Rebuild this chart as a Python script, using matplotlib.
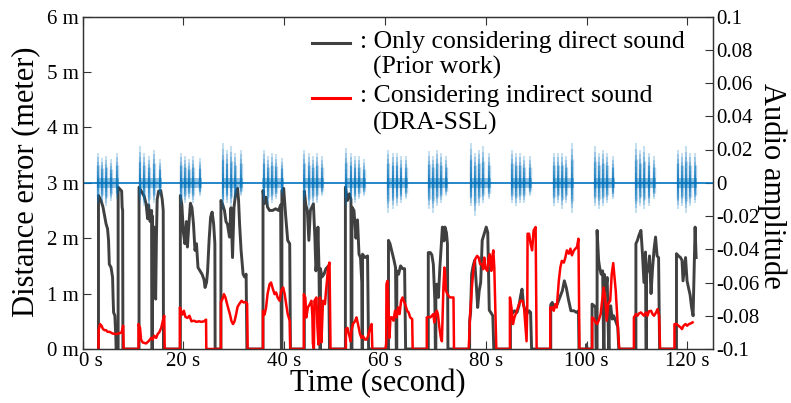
import numpy as np
import matplotlib
matplotlib.use('agg')
import matplotlib.pyplot as plt
from matplotlib.lines import Line2D
from matplotlib.transforms import ScaledTranslation

plt.rcParams['font.family'] = ['Liberation Serif', 'DejaVu Serif']
plt.rcParams['axes.unicode_minus'] = False

# distance error of the prior work (direct sound only), seconds / metres
gray_t = [3.15, 3.15, 3.65, 4.05, 4.65, 4.95, 5.15, 5.3, 5.65, 5.95, 6.05, 6.15, 6.4, 6.6, 6.65, 7.05, 7.05, 7.45, 7.75, 7.85, 7.95, 8.0,
          11.2, 11.2, 11.7, 12.2, 12.6, 12.9, 13.1, 13.4, 13.7, 13.75, 13.85, 13.85, 14.0, 14.2, 14.35, 14.5, 14.65, 14.8, 15.1, 15.5, 15.8, 16.0, 16.05,
          19.4, 19.4, 19.7, 20.0, 20.3, 20.6, 20.8, 21.1, 21.4, 21.7, 22.0, 22.3, 22.6, 22.9, 23.3, 23.7, 24.1, 24.3, 24.6, 24.8, 25.1, 25.4, 25.7, 26.0, 26.25, 26.3,
          27.45, 27.45, 27.75, 28.15, 28.45, 28.75, 29.15, 29.45, 29.75, 30.05, 30.45, 30.75, 30.95, 31.15, 31.45, 31.85, 32.15, 32.45, 32.6,
          35.8, 35.8, 36.1, 36.4, 36.7, 37.1, 37.7, 38.3, 38.9, 39.3, 39.45, 39.55, 39.55, 39.9, 40.3, 40.7, 41.1, 41.25,
          44.0, 44.0, 44.3, 44.6, 44.9, 45.2, 45.5, 45.8, 46.1, 46.3, 46.5, 46.7, 46.9, 47.1, 47.2, 47.2, 47.5, 47.9, 48.3, 48.8, 49.0,
          52.15, 52.15, 52.55, 52.95, 53.25, 53.3, 53.45, 53.45, 53.85, 54.25, 54.55, 54.85, 55.15, 55.4, 55.45, 55.55, 55.55, 56.05, 56.55, 56.75,
          60.7, 60.7, 61.0, 61.4, 61.8, 62.1, 62.25, 62.35, 62.35, 62.7, 63.1, 63.5, 63.9, 64.1,
          68.6, 68.6, 69.0, 69.3, 69.6, 69.9, 70.0, 70.1, 70.1, 70.3, 70.6, 70.9, 71.2, 71.4, 71.7, 71.9, 72.2, 72.4, 72.5,
          76.8, 76.8, 77.0, 77.2, 77.5, 77.8, 78.1, 78.4, 78.7, 79.0, 79.3, 79.7, 80.1, 80.4, 80.7, 81.0, 81.4, 81.6,
          84.9, 84.9, 85.3, 85.7, 86.2, 86.6, 86.9, 87.2, 87.5, 87.8, 88.2, 88.6, 88.9, 89.1,
          92.9, 92.9, 93.2, 93.6, 94.2, 94.7, 95.2, 95.6, 96.0, 96.4, 96.9, 97.5, 98.0, 98.4, 98.5,
          100.0, 100.0, 100.1,
          101.1, 101.1, 101.5, 101.8, 101.9, 102.1, 102.1, 102.4, 102.6, 102.9, 103.2, 103.4, 103.5, 103.5, 103.8, 104.1, 104.4, 104.5, 104.5, 104.8, 105.1, 105.4, 105.8, 106.2, 106.4,
          109.8, 109.8, 110.1, 110.4, 110.8, 111.1, 111.4, 111.7, 111.8, 111.9, 111.9, 112.2, 112.5, 112.8, 113.1, 113.4, 113.7, 114.0, 114.3, 114.5,
          117.85, 117.85, 118.25, 118.65, 118.95, 119.15, 119.35, 119.65, 119.95, 120.25, 120.55, 120.85, 121.15, 121.35, 121.55, 121.75]
gray_m = [0, 2.77, 2.68, 2.56, 2.26, 2.17, 1.96, 1.53, 1.47, 1.29, 0.93, 0.66, 0.6, 0.2, 0, 0, 2.92, 2.88, 2.85, 2.56, 2.5, 0,
          0, 2.92, 2.84, 2.76, 2.62, 2.35, 2.6, 2.3, 2.5, 0, 0, 2.4, 1.6, 2.2, 1.2, 0.9, 2.0, 2.7, 2.85, 2.86, 2.7, 2.5, 0,
          0, 2.77, 2.6, 2.1, 1.9, 2.3, 1.84, 2.26, 2.63, 2.55, 2.26, 1.78, 1.9, 1.47, 1.41, 1.35, 1.25, 1.11, 1.2, 1.4, 1.96, 2.38, 2.47, 2.26, 1.9, 0,
          0, 2.68, 2.62, 2.5, 2.3, 2.25, 2.02, 2.55, 1.65, 2.56, 2.86, 2.9, 2.68, 2.26, 1.78, 1.35, 1.3, 1.35, 0,
          0, 2.86, 2.63, 2.74, 2.56, 2.5, 2.5, 2.53, 2.5, 2.6, 0, 0, 2.86, 2.9, 2.4, 1.96, 1.9, 0,
          0, 2.85, 2.6, 2.5, 1.96, 2.5, 2.56, 2.62, 2.0, 1.41, 1.6, 2.2, 1.5, 0, 0, 1.45, 1.3, 1.35, 1.45, 1.5, 0,
          0, 2.92, 2.68, 2.8, 2.7, 0, 0, 2.56, 2.5, 2.0, 2.33, 1.71, 1.65, 1.2, 0, 0, 1.71, 1.65, 1.68, 0,
          0, 1.96, 1.9, 1.75, 1.6, 1.47, 0, 0, 1.41, 1.35, 1.5, 1.45, 1.45, 0,
          0, 1.74, 1.74, 1.7, 1.53, 0.87, 0, 0, 1.0, 1.17, 0.93, 1.47, 1.9, 2.2, 1.95, 2.2, 2.1, 1.9, 0,
          0, 0.5, 0.66, 1.35, 1.5, 1.6, 1.2, 0.75, 1.05, 1.2, 1.96, 2.08, 2.2, 2.1, 0.7, 0.66, 0.6, 0,
          0, 0.69, 0.64, 0.69, 0.66, 0.78, 0.95, 1.08, 0.8, 0.69, 0.64, 0.69, 0.66, 0,
          0, 0.8, 0.84, 0.75, 0.81, 0.93, 1.05, 1.23, 1.1, 0.9, 0.69, 0.69, 0.66, 0.69, 0,
          0, 0.08, 0,
          0, 0.81, 0.78, 0.75, 0, 0, 2.14, 1.6, 1.47, 1.35, 1.41, 0, 0, 1.35, 1.05, 1.29, 0, 0, 0.66, 0.78, 0.54, 0.6, 0.5, 0.4, 0,
          0, 1.9, 1.96, 2.05, 2.14, 1.72, 1.2, 1.75, 0, 0, 1.35, 1.45, 1.68, 1.0, 1.45, 1.8, 2.02, 1.68, 1.65, 0,
          0, 1.72, 1.68, 1.65, 1.6, 1.23, 1.4, 1.65, 1.23, 1.1, 0.98, 0.75, 0.6, 1.4, 2.2, 1.65]

# distance error of DRA-SSL (indirect sound considered)
red_t = [3.15, 3.2, 3.45, 3.75, 4.05, 4.35, 4.65, 4.95, 5.35, 5.95, 6.55, 7.15, 7.75, 8.05, 8.15,
         11.1, 11.1, 11.4, 11.6, 11.9, 12.6, 13.2, 13.6, 13.9, 14.2, 14.6, 14.9, 15.2, 15.6, 15.9, 16.2, 16.3,
         19.3, 19.3, 19.6, 19.8, 20.1, 20.4, 20.8, 21.2, 21.6, 22.1, 22.6, 23.1, 23.6, 24.1, 24.5, 24.55,
         27.45, 27.45, 27.75, 28.05, 28.35, 28.65, 28.95, 29.25, 29.55, 29.85, 30.15, 30.45, 30.75, 31.15, 31.55, 31.95, 32.35, 32.65, 32.75,
         35.8, 35.8, 36.1, 36.4, 36.7, 37.1, 37.4, 37.7, 38.1, 38.4, 38.7, 39.1, 39.4, 39.8, 40.1, 40.4, 40.7, 41.1, 41.2,
         43.9, 43.9, 44.2, 44.4, 44.7, 45.1, 45.4, 45.6, 45.7, 45.9, 46.0, 46.4, 46.6, 46.8, 47.1, 47.2, 47.4, 47.7, 48.1, 48.3, 48.5, 48.7, 49.0, 49.2,
         52.25, 52.25, 52.55, 52.75, 53.05, 53.15, 53.35, 53.65, 54.05, 54.35, 54.65, 55.05, 55.35, 55.65, 56.05, 56.35, 56.65, 57.05, 57.35, 57.5,
         60.1, 60.25, 60.3, 60.5, 60.7, 60.9, 61.1, 61.4, 61.7, 62.0, 62.3, 62.6, 62.9, 63.2, 63.5, 63.7, 64.0, 64.4, 64.7, 65.0, 65.4, 65.5,
         68.3, 68.3, 68.7, 69.0, 69.3, 69.6, 69.8, 70.1, 70.3, 70.5, 70.8, 71.1, 71.3, 71.5, 71.6, 71.8, 71.9, 72.1, 72.4, 72.6, 72.9, 73.4, 73.6, 73.7,
         76.6, 76.7, 76.9, 77.3, 77.6, 77.9, 78.3, 78.6, 78.9, 79.3, 79.5, 79.7, 79.9, 80.3, 80.6, 80.8, 81.1, 81.3, 81.5, 81.7, 81.9, 82.1,
         84.8, 84.8, 85.1, 85.4, 85.7, 86.2, 86.6, 86.9, 87.3, 87.6, 87.9, 88.1, 88.25, 88.3, 88.6, 88.9, 89.2, 89.5, 89.9, 90.1,
         92.8, 92.8, 93.2, 93.5, 93.8, 94.1, 94.5, 94.8, 95.1, 95.5, 95.8, 96.1, 96.5, 96.8, 97.1, 97.5, 97.8, 98.1, 98.4, 98.6,
         101.1, 101.1, 101.5, 101.8, 102.1, 102.4, 102.8, 103.1, 103.4, 103.7, 104.0, 104.3, 104.7, 105.0, 105.3, 105.5, 105.8, 106.1, 106.3, 106.5,
         109.4, 109.4, 109.8, 110.1, 110.4, 110.8, 111.1, 111.4, 111.8, 112.1, 112.4, 112.8, 113.1, 113.4, 113.8, 114.1, 114.4, 114.6,
         117.45, 117.45, 117.85, 118.25, 118.65, 118.95, 119.25, 119.65, 119.95, 120.35, 120.65, 121.05]
red_m = [0, 0.35, 0.45, 0.42, 0.36, 0.34, 0.34, 0.31, 0.31, 0.28, 0.27, 0.28, 0.3, 0.42, 0,
         0, 0.45, 0.38, 0.17, 0.12, 0.1, 0.15, 0.2, 0.17, 0.24, 0.2, 0.27, 0.3, 0.38, 0.5, 0.6, 0,
         0, 0.75, 0.66, 0.62, 0.69, 0.58, 0.56, 0.6, 0.5, 0.51, 0.49, 0.5, 0.49, 0.5, 0.53, 0,
         0, 0.85, 0.9, 0.99, 0.93, 0.82, 0.72, 0.62, 0.5, 0.45, 0.5, 0.62, 0.76, 0.82, 0.87, 0.84, 0.85, 0.82, 0,
         0, 0.69, 0.62, 0.74, 0.99, 1.17, 1.2, 1.1, 0.99, 1.02, 0.93, 0.87, 1.05, 1.11, 0.99, 0.81, 0.63, 0.51, 0,
         0, 0.99, 0.93, 0.57, 0.75, 0.81, 0.87, 0.6, 0.1, 0, 0.87, 0.93, 0.4, 0.08, 0.93, 0.4, 0.12, 0.87, 0.81, 1.05, 1.23, 1.47, 1.56, 0,
         0, 0.36, 0.38, 0.3, 0.2, 0.14, 0.33, 0.45, 0.5, 0.57, 0.45, 0.27, 0.2, 0.23, 0.17, 0.17, 0.23, 0.38, 0.45, 0,
         0, 0.1, 1.17, 1.23, 0.69, 0.2, 0.57, 0.57, 0.51, 0.69, 0.57, 0.75, 0.63, 0.87, 0.93, 0.87, 0.81, 0.69, 0.66, 0.57, 0.54, 0,
         0, 0.57, 0.58, 0.57, 0.6, 0.63, 0.48, 0.66, 0.69, 0.63, 0.39, 0.2, 0.14, 0.75, 1.11, 1.47, 1.41, 1.05, 0.99, 0.96, 0.93, 0.93, 0.93, 0,
         0, 0.15, 0.63, 1.17, 1.47, 1.62, 1.68, 1.65, 1.53, 1.53, 1.44, 1.65, 1.47, 1.41, 1.65, 1.71, 1.41, 1.65, 1.78, 1.47, 0.75, 0,
         0, 0.93, 0.75, 0.45, 0.57, 0.69, 0.81, 0.87, 0.87, 0.75, 0.39, 0.14, 0.8, 2.08, 2.08, 1.9, 1.78, 2.14, 2.2, 0,
         0, 0.75, 0.75, 0.69, 0.81, 0.75, 1.23, 1.47, 1.59, 1.56, 1.65, 1.78, 1.72, 1.81, 1.69, 1.78, 1.81, 1.84, 1.99, 0,
         0, 0.57, 0.54, 0.48, 0.45, 0.51, 0.63, 0.87, 1.11, 0.93, 0.51, 0.81, 0.87, 1.35, 1.55, 1.35, 1.05, 0.57, 0.27, 0,
         0, 0.57, 0.63, 0.6, 0.64, 0.66, 0.63, 0.6, 0.66, 0.6, 0.68, 0.69, 0.63, 0.6, 0.66, 0.72, 0.6, 0,
         0, 0.45, 0.45, 0.42, 0.39, 0.36, 0.42, 0.45, 0.42, 0.45, 0.46, 0.48]

# audio: 15 bursts of 5 spikes (time, positive peak, negative peak)
spike_t = [3.1, 3.9, 4.7, 5.6, 6.8,
           11.3, 12.2, 13.2, 14.2, 15.3,
           19.5, 20.3, 21.1, 21.9, 23.2,
           27.8, 28.6, 29.5, 30.3, 31.4,
           35.9, 36.8, 37.6, 38.4, 39.5,
           44.0, 44.9, 45.7, 46.5, 47.5,
           52.3, 53.2, 54.0, 54.8, 55.8,
           60.6, 61.5, 62.3, 63.1, 64.2,
           68.7, 69.5, 70.3, 71.1, 72.2,
           77.0, 77.9, 78.7, 79.5, 80.6,
           85.2, 86.0, 86.8, 87.6, 88.8,
           93.5, 94.4, 95.2, 96.0, 97.1,
           101.7, 102.5, 103.3, 104.1, 105.2,
           109.8, 110.7, 111.5, 112.3, 113.4,
           118.1, 118.9, 119.7, 120.5, 121.6]
spike_hi = [0.018, 0.015, 0.016, 0.014, 0.018,
            0.022, 0.018, 0.016, 0.020, 0.014,
            0.018, 0.016, 0.014, 0.016, 0.015,
            0.024, 0.020, 0.022, 0.018, 0.020,
            0.020, 0.016, 0.018, 0.017, 0.015,
            0.020, 0.018, 0.016, 0.018, 0.016,
            0.021, 0.018, 0.016, 0.016, 0.014,
            0.020, 0.018, 0.018, 0.016, 0.016,
            0.019, 0.016, 0.020, 0.018, 0.016,
            0.024, 0.018, 0.020, 0.022, 0.018,
            0.020, 0.018, 0.018, 0.016, 0.016,
            0.018, 0.018, 0.018, 0.016, 0.024,
            0.022, 0.018, 0.020, 0.018, 0.016,
            0.024, 0.020, 0.022, 0.018, 0.016,
            0.020, 0.018, 0.022, 0.018, 0.018]
spike_lo = [-0.013, -0.012, -0.014, -0.011, -0.010,
            -0.012, -0.014, -0.016, -0.012, -0.008,
            -0.014, -0.012, -0.010, -0.012, -0.008,
            -0.016, -0.012, -0.014, -0.010, -0.008,
            -0.012, -0.014, -0.012, -0.010, -0.008,
            -0.012, -0.016, -0.013, -0.012, -0.008,
            -0.014, -0.012, -0.012, -0.010, -0.008,
            -0.018, -0.016, -0.014, -0.012, -0.010,
            -0.016, -0.018, -0.014, -0.012, -0.008,
            -0.014, -0.020, -0.014, -0.012, -0.010,
            -0.012, -0.014, -0.012, -0.012, -0.008,
            -0.014, -0.012, -0.016, -0.012, -0.018,
            -0.014, -0.016, -0.014, -0.012, -0.010,
            -0.018, -0.014, -0.016, -0.014, -0.010,
            -0.016, -0.014, -0.018, -0.014, -0.012]

x_ticks = [0, 20, 40, 60, 80, 100, 120]
y_ticks = [0, 1, 2, 3, 4, 5, 6]
amp_ticks = [-0.1, -0.08, -0.06, -0.04, -0.02, 0, 0.02, 0.04, 0.06, 0.08, 0.1]
amp_labels = ['-0.1', '-0.08', '-0.06', '-0.04', '-0.02', '0', '0.02', '0.04', '0.06', '0.08', '0.1']

W, H = 791, 403
fig = plt.figure(figsize=(W / 100, H / 100), dpi=100)
ax = fig.add_axes([82.6 / W, 1 - 349 / H, (712.5 - 82.6) / W, (349 - 16.5) / H])

ax.plot(gray_t, gray_m, color='#404040', lw=2.1)
ax.plot(red_t, red_m, color='#ff0000', lw=1.8)

ax.set_xlim(0, 125)
ax.set_ylim(0, 6)
ax.set_xticks(x_ticks)
ax.set_xticklabels([f'{v} s' for v in x_ticks])
ax.set_yticks(y_ticks)
ax.set_yticklabels([f'{v} m' for v in y_ticks])
ax.tick_params(direction='in', top=True, length=6, width=0.8, labelsize=15, pad=3, color='#333333')
ax.tick_params(axis='x', pad=2)
for s in ax.spines.values():
    s.set_color('#333333')
    s.set_linewidth(0.9)
# nudge "0 s" off the corner so it clears "0 m"
first = ax.get_xticklabels()[0]
first.set_transform(first.get_transform() + ScaledTranslation(6 / 72, 0, fig.dpi_scale_trans))

ax2 = ax.twinx()
blue = '#0072BD'
ax2.axhline(0, color=blue, lw=1.2)
st = np.array(spike_t)
hi = np.array(spike_hi)
lo = np.array(spike_lo)
# each spike: stacked translucent strokes so the peaks fade out
for frac in [1.0, 0.85, 0.7, 0.55, 0.4, 0.25]:
    ax2.vlines(st, lo * frac, hi * frac, color=blue, lw=1.5, alpha=0.22)
for side in [-0.15, 0.15]:
    ax2.vlines(st + side, lo * 0.6, hi * 0.6, color=blue, lw=1.0, alpha=0.25)
for b in range(len(st) // 5):
    g = st[b * 5:(b + 1) * 5]
    ax2.fill_between([g[0] - 0.2, g[-1] + 0.4], -0.003, 0.003, color=blue, alpha=0.4, lw=0)

ax2.set_ylim(-0.1, 0.1)
ax2.set_yticks(amp_ticks)
ax2.set_yticklabels(amp_labels)
ax2.tick_params(direction='in', length=6, width=0.8, labelsize=15, pad=3, color='#333333')
for s in ax2.spines.values():
    s.set_color('#333333')
    s.set_linewidth(0.9)

fig.text(378 / W, 1 - 384 / H, 'Time (second)', fontsize=22, ha='center', va='center')
fig.text(26 / W, 1 - 182 / H, 'Distance error (meter)', fontsize=22, ha='center', va='center', rotation=90)
fig.text(772 / W, 1 - 186 / H, 'Audio amplitude', fontsize=22, ha='center', va='center', rotation=270)

# legend drawn by hand to keep the two-line labels
leg_rows = [(': Only considering direct sound', 360, 47.7), ('(Prior work)', 373, 73.5),
            (': Considering indirect sound', 360, 101.7), ('(DRA-SSL)', 373, 130)]
for txt, x, y in leg_rows:
    fig.text(x / W, 1 - y / H, txt, fontsize=18.5, ha='left', va='baseline')
fig.add_artist(Line2D([312 / W, 350 / W], [1 - 43.3 / H, 1 - 43.3 / H], color='#404040', lw=2.2))
fig.add_artist(Line2D([312 / W, 350 / W], [1 - 98.3 / H, 1 - 98.3 / H], color='#ff0000', lw=2.2))

fig.savefig('out.png', dpi=100)
